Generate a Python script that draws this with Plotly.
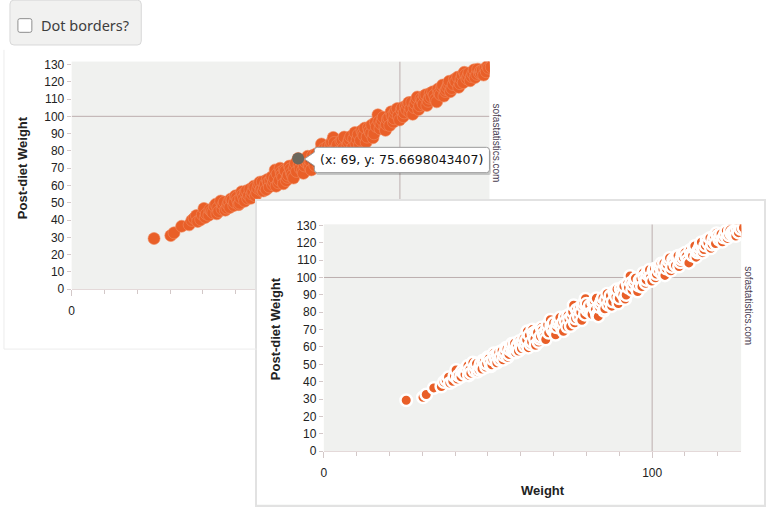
import plotly.graph_objects as go

# The picture is a screenshot: a checkbox, one sofastatistics scatter chart
# (dots without borders, with a hover tooltip) and a second copy of the chart
# (dots with white borders) lying over its lower right corner.
W, H = 766, 514

# Weight vs post-diet weight (two passes over the cloud)
WEIGHT_A = [
    25.1, 30.2, 31.2, 35.8, 37.3, 38.4, 39.3, 40.3, 41.0, 41.8,
    42.6, 43.5, 44.2, 44.8, 45.4, 46.1, 46.8, 47.3, 47.9, 48.5,
    49.4, 49.9, 50.6, 51.2, 51.8, 52.4, 52.9, 53.6, 54.3, 54.9,
    55.5, 56.0, 56.7, 57.3, 57.9, 58.4, 59.0, 59.6, 60.2, 61.0,
    61.5, 62.0, 62.3, 63.0, 63.5, 64.0, 64.5, 65.1, 65.7, 66.3,
    66.9, 67.6, 68.2, 69.0, 69.6, 70.6, 71.2, 71.9, 72.5, 73.0,
    73.7, 74.4, 75.2, 75.8, 76.1, 76.7, 77.4, 78.0, 78.6, 79.2,
    79.7, 80.3, 81.0, 81.7, 82.4, 83.2, 83.6, 84.3, 85.0, 85.6,
    86.3, 87.0, 87.7, 88.4, 89.0, 89.7, 90.4, 91.1, 91.8, 92.5,
    93.3, 93.9, 94.6, 95.4, 95.9, 96.6, 97.3, 98.0, 98.4, 99.2,
    100.4, 101.0, 101.7, 102.4, 103.0, 103.6, 104.3, 105.0, 105.7, 106.4,
    107.1, 107.9, 108.6, 109.5, 110.0, 110.8, 111.6, 112.3, 113.0, 113.8,
    114.5, 115.0, 115.8, 116.6, 117.6, 118.3, 119.0, 119.6, 120.4, 121.0,
    121.8, 122.6, 123.4, 124.5, 124.8, 125.9, 126.7, 127.8,
]
POST_DIET_A = [
    29.3, 31.0, 32.6, 37.2, 41.0, 39.2, 40.2, 46.7, 43.5, 42.8,
    45.1, 47.9, 43.6, 44.9, 51.0, 48.8, 45.7, 46.9, 50.6, 52.2,
    48.4, 54.0, 51.3, 49.7, 56.4, 53.1, 55.9, 52.4, 57.8, 55.0,
    59.6, 54.0, 58.3, 61.9, 58.0, 56.8, 60.8, 63.4, 59.1, 65.0,
    62.2, 69.0, 59.6, 61.5, 70.0, 66.3, 61.0, 68.4, 64.7, 71.2,
    67.5, 64.3, 72.8, 75.6698043407, 69.9, 67.0, 73.6, 76.9, 70.8, 69.0,
    74.5, 78.2, 72.0, 80.3, 84.0, 76.4, 79.1, 82.6, 75.3, 85.2,
    87.8, 80.9, 83.7, 78.8, 86.4, 78.4, 77.6, 84.9, 88.3, 82.0,
    90.6, 86.7, 83.5, 91.8, 88.9, 85.0, 93.5, 90.2, 87.6, 96.4,
    100.9, 92.8, 97.7, 93.4, 95.3, 99.2, 102.6, 96.7, 101.9, 104.5,
    103.7, 99.8, 105.8, 106.5, 102.3, 108.2, 105.1, 109.6, 103.9, 110.3,
    107.0, 112.5, 108.7, 111.4, 114.2, 109.9, 115.8, 112.6, 118.1, 114.4,
    117.0, 120.3, 116.1, 121.4, 122.7, 118.9, 123.8, 125.5, 121.7, 125.1,
    123.0, 126.9, 124.3, 126.2, 124.8, 127.6, 129.0, 128.6,
]
WEIGHT_B = [
    33.5, 36.6, 38.0, 39.8, 40.7, 42.1, 43.0, 43.9, 44.5, 45.8,
    46.5, 47.6, 48.2, 48.9, 49.6, 50.3, 50.9, 51.5, 52.1, 52.7,
    53.3, 53.9, 54.6, 55.2, 55.8, 56.4, 57.0, 57.6, 58.1, 58.7,
    59.3, 59.9, 60.6, 61.2, 61.8, 62.6, 63.3, 63.8, 64.3, 64.8,
    65.4, 66.0, 66.6, 67.2, 67.9, 68.5, 69.3, 70.0, 70.3, 70.9,
    71.5, 72.2, 72.8, 73.4, 74.1, 74.7, 75.5, 76.4, 77.0, 77.7,
    78.3, 78.9, 79.5, 80.0, 80.7, 81.3, 82.0, 82.7, 83.0, 83.9,
    84.6, 85.3, 85.9, 86.6, 87.3, 88.0, 88.7, 89.3, 90.0, 90.7,
    91.4, 92.1, 92.8, 93.6, 94.2, 94.9, 95.6, 96.2, 96.9, 97.6,
    98.2, 98.7, 99.5, 99.9, 100.7, 101.3, 102.0, 102.7, 103.3, 103.9,
    104.6, 105.3, 106.0, 106.7, 107.4, 108.2, 108.9, 109.2, 110.4, 111.2,
    111.9, 112.7, 113.4, 114.1, 114.8, 115.4, 116.2, 117.0, 117.9, 118.6,
    119.3, 120.0, 120.7, 121.4, 122.2, 122.9, 123.7, 124.2, 125.1, 125.5,
    126.3, 127.0,
]
POST_DIET_B = [
    36.4, 39.8, 42.6, 43.1, 41.5, 46.0, 44.2, 49.2, 47.1, 46.3,
    50.4, 49.0, 47.3, 51.6, 50.3, 53.2, 48.9, 52.7, 54.8, 50.9,
    56.9, 54.2, 52.6, 56.6, 58.8, 55.7, 60.4, 57.2, 62.1, 59.0,
    57.6, 61.8, 62.9, 60.4, 64.1, 66.7, 63.0, 67.9, 64.6, 69.2,
    62.8, 66.0, 69.6, 65.9, 70.4, 68.1, 71.9, 73.8, 68.6, 71.3,
    75.1, 72.4, 74.0, 77.3, 71.6, 75.8, 77.7, 73.9, 81.4, 77.2,
    80.0, 83.4, 78.6, 84.9, 82.2, 79.6, 85.7, 81.4, 88.0, 83.0,
    86.6, 80.8, 87.1, 84.2, 89.5, 86.1, 90.3, 93.2, 88.0, 91.6,
    95.0, 89.9, 94.1, 97.0, 95.6, 99.5, 91.9, 98.4, 94.7, 100.3,
    98.6, 103.3, 100.1, 97.9, 105.0, 102.0, 103.8, 108.0, 104.6, 101.2,
    107.3, 111.2, 106.1, 109.0, 111.9, 106.3, 110.5, 113.3, 112.3, 108.4,
    113.5, 116.9, 111.7, 115.5, 118.8, 114.3, 118.4, 120.0, 116.8, 121.6,
    119.5, 124.1, 123.2, 120.6, 124.7, 122.5, 127.3, 125.0, 126.7, 123.9,
    125.8, 127.9,
]

# the point under the mouse in the top chart
HOVER_WEIGHT = 69.0
HOVER_POST = POST_DIET_A[WEIGHT_A.index(HOVER_WEIGHT)]

# drawn in order of weight, so each dot lies over its left neighbour
PAIRS = sorted(zip(WEIGHT_A + WEIGHT_B, POST_DIET_A + POST_DIET_B))
WEIGHT = [p[0] for p in PAIRS]
POST_DIET = [p[1] for p in PAIRS]

X_TICKS = [0, 100]
Y_TICKS = list(range(0, 131, 10))
GRID_AT = 100

ORANGE = "#e95f28"
PLOT_BG = "#f0f1ef"
TICK_COLOR = "#d3c8c8"
GRID_COLOR = "#bcaeae"
LABEL_FONT = dict(family="Liberation Sans, Arial, sans-serif", size=12, color="#222222")
TITLE_FONT = dict(family="Liberation Sans, Arial, sans-serif", size=13, color="#222222")
MARK_FONT = dict(family="Liberation Sans, Arial, sans-serif", size=10, color="#483c50")


def px(x):
    return x / W


def py(y):
    return 1 - y / H


def to_path(pts):
    out = []
    for p in pts:
        cmd, coords = p[0], p[1:]
        xy = []
        for i in range(0, len(coords), 2):
            xy.append(f"{px(coords[i]):.5f},{py(coords[i + 1]):.5f}")
        out.append(cmd + " " + " ".join(xy))
    return " ".join(out) + " Z"


def rounded_path(x0, y0, x1, y1, r):
    pts = [
        ("M", x0 + r, y0), ("L", x1 - r, y0), ("Q", x1, y0, x1, y0 + r),
        ("L", x1, y1 - r), ("Q", x1, y1, x1 - r, y1), ("L", x0 + r, y1),
        ("Q", x0, y1, x0, y1 - r), ("L", x0, y0 + r), ("Q", x0, y0, x0 + r, y0),
    ]
    return to_path(pts)


def tooltip_path(dx=0, dy=0):
    x0, y0, x1, y1, r = 313 + dx, 145 + dy, 489 + dx, 171 + dy, 3
    pts = [
        ("M", x0 + r, y0), ("L", x1 - r, y0), ("Q", x1, y0, x1, y0 + r),
        ("L", x1, y1 - r), ("Q", x1, y1, x1 - r, y1), ("L", x0 + r, y1),
        ("Q", x0, y1, x0, y1 - r), ("L", x0, y0 + 19), ("L", x0 - 10, y0 + 12),
        ("L", x0, y0 + 5), ("L", x0, y0 + r), ("Q", x0, y0, x0 + r, y0),
    ]
    return to_path(pts)


def x_axis(domain, x_max, anchor):
    return dict(
        domain=domain, range=[0, x_max], anchor=anchor,
        tickmode="array", tickvals=X_TICKS, ticks="outside", ticklen=6,
        tickcolor=TICK_COLOR, ticklabelstandoff=4,
        minor=dict(tickmode="linear", tick0=0, dtick=10, ticks="outside",
                   ticklen=4, tickcolor=TICK_COLOR),
        showgrid=False, zeroline=False, showline=True, linecolor="#e4d9d9",
        tickfont=LABEL_FONT, fixedrange=True,
    )


def y_axis(domain, y_max, anchor):
    return dict(
        domain=domain, range=[0, y_max], anchor=anchor,
        tickmode="array", tickvals=Y_TICKS, ticks="outside", ticklen=4,
        tickcolor=TICK_COLOR, showgrid=False, zeroline=False, showline=False,
        tickfont=LABEL_FONT, fixedrange=True,
    )


fig = go.Figure()

# top chart, plain dots
fig.add_trace(go.Scatter(
    x=WEIGHT, y=POST_DIET, mode="markers", xaxis="x", yaxis="y",
    marker=dict(size=12, color=ORANGE, line=dict(width=0.6, color="#f08a5e")),
))
fig.add_trace(go.Scatter(
    x=[HOVER_WEIGHT], y=[HOVER_POST], mode="markers",
    xaxis="x", yaxis="y", marker=dict(size=12, color="#6b675c"),
))
# the white panel of the second chart
fig.add_trace(go.Scatter(x=[], y=[], xaxis="x2", yaxis="y2"))
# bottom chart, dots with borders
fig.add_trace(go.Scatter(
    x=WEIGHT, y=POST_DIET, mode="markers", xaxis="x3", yaxis="y3",
    marker=dict(size=11.5, color=ORANGE, line=dict(width=2.5, color="white")),
))

TOP_X = [69 / W, 489 / W]
TOP_Y = [1 - 290.5 / H, 1 - 57 / H]
TOP_XMAX, TOP_YMAX = 127.27, 131.7
BOT_X = [322.5 / W, 742 / W]
BOT_Y = [1 - 456.7 / H, 1 - 224 / H]
BOT_XMAX, BOT_YMAX = 127.1, 130.6

fig.update_layout(
    width=W, height=H, margin=dict(l=0, r=0, t=0, b=0),
    paper_bgcolor="white", plot_bgcolor=PLOT_BG,
    showlegend=False, hovermode=False,
    font=LABEL_FONT,
    xaxis=x_axis(TOP_X, TOP_XMAX, "y"),
    yaxis=y_axis(TOP_Y, TOP_YMAX, "x"),
    xaxis2=dict(domain=[255 / W, 765 / W], range=[0, 1], anchor="y2",
                showticklabels=False, ticks="", showgrid=False, zeroline=False,
                showline=True, mirror=True, linecolor="#e2e2e2", linewidth=1.5,
                fixedrange=True),
    yaxis2=dict(domain=[1 - 511.5 / H, 1 - 200 / H], range=[0, 1], anchor="x2",
                showticklabels=False, ticks="", showgrid=False, zeroline=False,
                showline=True, mirror=True, linecolor="#e2e2e2", linewidth=1.5,
                fixedrange=True),
    xaxis3=x_axis(BOT_X, BOT_XMAX, "y3"),
    yaxis3=y_axis(BOT_Y, BOT_YMAX, "x3"),
)

shapes = [
    # cover for the top chart
    dict(type="rect", xref="x2", yref="y2", x0=0, x1=1, y0=0, y1=1,
         fillcolor="white", line=dict(width=0), layer="below"),
]
for xr, yr, xm, ym in [("x", "y", TOP_XMAX, TOP_YMAX), ("x3", "y3", BOT_XMAX, BOT_YMAX)]:
    shapes.append(dict(type="line", xref=xr, yref=yr, x0=GRID_AT, x1=GRID_AT, y0=0, y1=ym,
                       line=dict(color=GRID_COLOR, width=1), layer="below"))
    shapes.append(dict(type="line", xref=xr, yref=yr, x0=0, x1=xm, y0=GRID_AT, y1=GRID_AT,
                       line=dict(color=GRID_COLOR, width=1), layer="below"))

# checkbox panel
shapes.append(dict(type="path", xref="paper", yref="paper", path=rounded_path(7, -6, 139, 40, 4),
                   fillcolor="#f1f1f0", line=dict(color="#d9d9d9", width=1), layer="above"))
shapes.append(dict(type="path", xref="paper", yref="paper", path=rounded_path(15, 13, 29, 27, 2),
                   fillcolor="white", line=dict(color="#8e8e8e", width=1), layer="above"))
# faint edge of the top chart's panel
shapes.append(dict(type="line", xref="paper", yref="paper", x0=px(1), x1=px(1), y0=py(45), y1=py(352),
                   line=dict(color="#ececec", width=1)))
shapes.append(dict(type="line", xref="paper", yref="paper", x0=px(1), x1=px(255), y0=py(352), y1=py(352),
                   line=dict(color="#ececec", width=1)))
# tooltip
shapes.append(dict(type="path", xref="paper", yref="paper", path=tooltip_path(1.5, 2.5),
                   fillcolor="rgba(0,0,0,0.18)", line=dict(width=0), layer="above"))
shapes.append(dict(type="path", xref="paper", yref="paper", path=tooltip_path(),
                   fillcolor="white", line=dict(color="#9a9a9a", width=1), layer="above"))
fig.update_layout(shapes=shapes)

tip = f"(x: {HOVER_WEIGHT:g}, y: {HOVER_POST})"
annotations = [
    dict(text="<b>Post-diet Weight</b>", x=px(19.5), y=py(166), textangle=-90, font=TITLE_FONT),
    dict(text="<b>Post-diet Weight</b>", x=px(274), y=py(331), textangle=-90, font=TITLE_FONT),
    dict(text="<b>Weight</b>", x=px(543), y=py(497), font=TITLE_FONT),
    dict(text="sofastatistics.com", x=px(496.5), y=py(141), textangle=90, font=MARK_FONT),
    dict(text="sofastatistics.com", x=px(750), y=py(307), textangle=90, font=MARK_FONT),
    dict(text=tip, x=px(400.5), y=py(157.5),
         font=dict(family="DejaVu Sans", size=12.5, color="#111111")),
    dict(text="Dot borders?", x=px(36), y=py(20), xanchor="left",
         font=dict(family="Noto Sans", size=14.5, color="#3d3d3d")),
]
for a in annotations:
    a.setdefault("xanchor", "center")
    a.update(xref="paper", yref="paper", yanchor="middle", showarrow=False)
fig.update_layout(annotations=annotations)

# the page's default 8px body margin would push the 766x514 figure off the window
fig.write_html("out.html", config={"displayModeBar": False},
               post_script="document.body.style.margin = '0';")
